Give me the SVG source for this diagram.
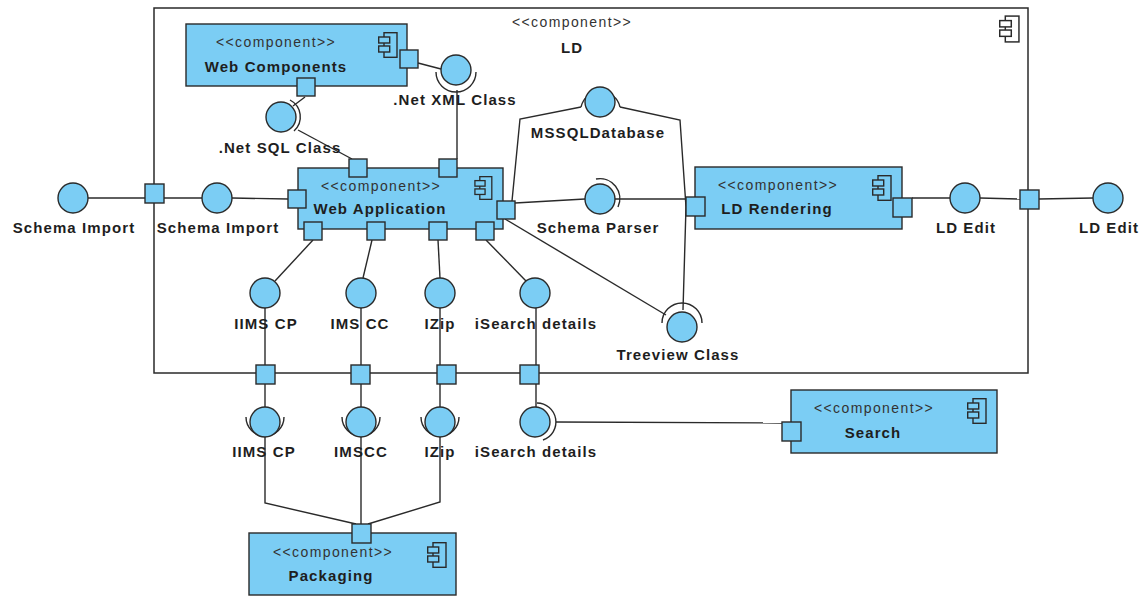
<svg xmlns="http://www.w3.org/2000/svg" xmlns:xlink="http://www.w3.org/1999/xlink" width="1147" height="596" viewBox="0 0 1147 596">
  <style>
    .box { fill: #7BCDF4; stroke: #2a2a2a; stroke-width: 1.4; }
    .frame { fill: #ffffff; stroke: #2a2a2a; stroke-width: 1.5; }
    .port { fill: #7BCDF4; stroke: #2a2a2a; stroke-width: 1.4; }
    .ball { fill: #7BCDF4; stroke: #2a2a2a; stroke-width: 1.4; }
    .sock { fill: none; stroke: #2a2a2a; stroke-width: 1.4; }
    .wire { fill: none; stroke: #2a2a2a; stroke-width: 1.4; }
    .st { font-family: "Liberation Sans", Arial, sans-serif; font-size: 14px; fill: #333333; letter-spacing: 1.4px; text-anchor: middle; }
    .lb { font-family: "Liberation Sans", Arial, sans-serif; font-size: 15px; font-weight: bold; fill: #1e1e1e; letter-spacing: 1.1px; text-anchor: middle; }
  </style>
  <defs>
    <!-- component glyph: body with two tabs; tab fill comes from the <use> -->
    <symbol id="ico" viewBox="0 0 20 26">
      <rect x="6" y="0.7" width="13" height="24.6" fill="none" stroke="#2a2a2a" stroke-width="1.4"/>
      <rect x="0.7" y="5" width="11" height="6" stroke="#2a2a2a" stroke-width="1.4"/>
      <rect x="0.7" y="14" width="11" height="6" stroke="#2a2a2a" stroke-width="1.4"/>
    </symbol>
  </defs>

  <!-- LD container -->
  <g id="ld">
    <rect class="frame" x="154" y="8" width="874" height="365"/>
    <text class="st" x="572" y="27">&lt;&lt;component&gt;&gt;</text>
    <text class="lb" x="572" y="53">LD</text>
    <use href="#ico" x="999" y="15" width="21" height="28" fill="#ffffff"/>
  </g>

  <!-- connectors -->
  <g id="connectors">
    <!-- Schema Import -->
    <line class="wire" x1="88" y1="198" x2="145" y2="198"/>
    <line class="wire" x1="164" y1="198" x2="202" y2="198"/>
    <line class="wire" x1="232" y1="198" x2="288" y2="199"/>
    <!-- .Net SQL Class -->
    <line class="wire" x1="305" y1="97" x2="293" y2="106"/>
    <line class="wire" x1="298" y1="130" x2="352" y2="159"/>
    <!-- .Net XML Class -->
    <line class="wire" x1="418" y1="63" x2="441" y2="69"/>
    <line class="wire" x1="457" y1="90" x2="457" y2="159"/>
    <!-- MSSQLDatabase -->
    <polyline class="wire" points="512,201 520,119 581,107"/>
    <polyline class="wire" points="620,107 680,120 686,207 683,310"/>
    <!-- Schema Parser -->
    <line class="wire" x1="515" y1="203" x2="585" y2="199"/>
    <line class="wire" x1="615" y1="199" x2="686" y2="199"/>
    <!-- Treeview Class -->
    <line class="wire" x1="505" y1="219" x2="666" y2="315"/>
    <!-- LD Edit -->
    <line class="wire" x1="912" y1="198" x2="950" y2="198"/>
    <line class="wire" x1="980" y1="198" x2="1020" y2="199"/>
    <line class="wire" x1="1039" y1="199" x2="1093" y2="198"/>
    <!-- Web Application bottom ports to inner interfaces -->
    <line class="wire" x1="313" y1="240" x2="275" y2="281"/>
    <line class="wire" x1="372" y1="240" x2="363" y2="278"/>
    <line class="wire" x1="438" y1="240" x2="440" y2="278"/>
    <line class="wire" x1="486" y1="240" x2="526" y2="281"/>
    <!-- inner interfaces through boundary ports -->
    <line class="wire" x1="265" y1="308" x2="265" y2="407"/>
    <line class="wire" x1="361" y1="308" x2="361" y2="407"/>
    <line class="wire" x1="440" y1="308" x2="440" y2="407"/>
    <line class="wire" x1="536" y1="308" x2="536" y2="407"/>
    <!-- Packaging -->
    <polyline class="wire" points="265,437 265,503 356,524"/>
    <line class="wire" x1="361" y1="437" x2="361" y2="524"/>
    <polyline class="wire" points="440,437 440,502 368,524"/>
    <!-- Search -->
    <line class="wire" x1="556" y1="422" x2="782" y2="423"/>
  </g>

  <!-- boundary ports of LD -->
  <g id="ld-ports">
    <rect class="port" x="145" y="184" width="19" height="19"/>
    <rect class="port" x="1020" y="190" width="19" height="19"/>
    <rect class="port" x="256" y="365" width="19" height="19"/>
    <rect class="port" x="351" y="365" width="19" height="19"/>
    <rect class="port" x="437" y="365" width="19" height="19"/>
    <rect class="port" x="520" y="365" width="19" height="19"/>
  </g>

  <g id="web-components">
    <rect class="box" x="186" y="24" width="221" height="62"/>
    <text class="st" x="276" y="47">&lt;&lt;component&gt;&gt;</text>
    <text class="lb" x="276" y="72">Web Components</text>
    <use href="#ico" x="378" y="32" width="20" height="26" fill="#7BCDF4"/>
    <rect class="port" x="400" y="50" width="18" height="18"/>
    <rect class="port" x="297" y="78" width="18" height="18"/>
  </g>

  <g id="web-application">
    <rect class="box" x="298" y="168" width="205" height="61"/>
    <text class="st" x="381" y="191">&lt;&lt;component&gt;&gt;</text>
    <text class="lb" x="380" y="214">Web Application</text>
    <use href="#ico" x="474" y="176" width="19" height="24" fill="#7BCDF4"/>
    <rect class="port" x="349" y="159" width="18" height="18"/>
    <rect class="port" x="439" y="159" width="18" height="18"/>
    <rect class="port" x="288" y="190" width="18" height="18"/>
    <rect class="port" x="497" y="201" width="18" height="18"/>
    <rect class="port" x="304" y="222" width="18" height="18"/>
    <rect class="port" x="367" y="222" width="18" height="18"/>
    <rect class="port" x="429" y="222" width="18" height="18"/>
    <rect class="port" x="476" y="222" width="18" height="18"/>
  </g>

  <g id="ld-rendering">
    <rect class="box" x="695" y="167" width="207" height="62"/>
    <text class="st" x="778" y="190">&lt;&lt;component&gt;&gt;</text>
    <text class="lb" x="777" y="214">LD Rendering</text>
    <use href="#ico" x="872" y="175" width="20" height="26" fill="#7BCDF4"/>
    <rect class="port" x="686" y="197" width="19" height="19"/>
    <rect class="port" x="893" y="198" width="19" height="19"/>
  </g>

  <g id="search">
    <rect class="box" x="791" y="390" width="206" height="63"/>
    <text class="st" x="874" y="413">&lt;&lt;component&gt;&gt;</text>
    <text class="lb" x="873" y="438">Search</text>
    <use href="#ico" x="967" y="398" width="20" height="26" fill="#7BCDF4"/>
    <rect class="port" x="782" y="422" width="19" height="19"/>
  </g>

  <g id="packaging">
    <rect class="box" x="249" y="533" width="207" height="62"/>
    <text class="st" x="333" y="557">&lt;&lt;component&gt;&gt;</text>
    <text class="lb" x="331" y="581">Packaging</text>
    <use href="#ico" x="427" y="542" width="20" height="26" fill="#7BCDF4"/>
    <rect class="port" x="352" y="524" width="19" height="19"/>
  </g>

  <!-- interfaces -->
  <g id="if-schema-import-out">
    <circle class="ball" cx="73" cy="198" r="15"/>
    <text class="lb" x="74" y="233">Schema Import</text>
  </g>
  <g id="if-schema-import-in">
    <circle class="ball" cx="217" cy="198" r="15"/>
    <text class="lb" x="218" y="233">Schema Import</text>
  </g>
  <g id="if-net-xml">
    <path class="sock" d="M436,72 A20,20 0 0 0 476,72"/>
    <circle class="ball" cx="456" cy="70" r="15"/>
    <text class="lb" x="455" y="105">.Net XML Class</text>
  </g>
  <g id="if-net-sql">
    <path class="sock" d="M290,100 A19,19 0 0 1 294,131"/>
    <circle class="ball" cx="281" cy="117" r="15"/>
    <text class="lb" x="280" y="153">.Net SQL Class</text>
  </g>
  <g id="if-mssql">
    <path class="sock" d="M581,107 A20,20 0 0 1 620,107"/>
    <circle class="ball" cx="600" cy="102" r="15"/>
    <text class="lb" x="598" y="138">MSSQLDatabase</text>
  </g>
  <g id="if-schema-parser">
    <path class="sock" d="M596,179 A20,20 0 0 1 618,207"/>
    <circle class="ball" cx="600" cy="199" r="15"/>
    <text class="lb" x="598" y="233">Schema Parser</text>
  </g>
  <g id="if-treeview">
    <path class="sock" d="M662,323 A20,20 0 0 1 702,323"/>
    <circle class="ball" cx="682" cy="327" r="15"/>
    <text class="lb" x="678" y="360">Treeview Class</text>
  </g>
  <g id="if-ld-edit-in">
    <circle class="ball" cx="965" cy="198" r="15"/>
    <text class="lb" x="966" y="233">LD Edit</text>
  </g>
  <g id="if-ld-edit-out">
    <circle class="ball" cx="1108" cy="198" r="15"/>
    <text class="lb" x="1109" y="233">LD Edit</text>
  </g>

  <g id="if-iims-cp-in">
    <circle class="ball" cx="265" cy="293" r="15"/>
    <text class="lb" x="266" y="329">IIMS CP</text>
  </g>
  <g id="if-ims-cc-in">
    <circle class="ball" cx="361" cy="293" r="15"/>
    <text class="lb" x="360" y="329">IMS CC</text>
  </g>
  <g id="if-izip-in">
    <circle class="ball" cx="440" cy="293" r="15"/>
    <text class="lb" x="440" y="329">IZip</text>
  </g>
  <g id="if-isearch-in">
    <circle class="ball" cx="535" cy="293" r="15"/>
    <text class="lb" x="536" y="329">iSearch details</text>
  </g>

  <g id="if-iims-cp-out">
    <path class="sock" d="M284,417 A19,19 0 0 1 246,417"/>
    <circle class="ball" cx="265" cy="422" r="15"/>
    <text class="lb" x="264" y="457">IIMS CP</text>
  </g>
  <g id="if-imscc-out">
    <path class="sock" d="M380,417 A19,19 0 0 1 342,417"/>
    <circle class="ball" cx="361" cy="422" r="15"/>
    <text class="lb" x="361" y="457">IMSCC</text>
  </g>
  <g id="if-izip-out">
    <path class="sock" d="M459,417 A19,19 0 0 1 421,417"/>
    <circle class="ball" cx="440" cy="422" r="15"/>
    <text class="lb" x="440" y="457">IZip</text>
  </g>
  <g id="if-isearch-out">
    <path class="sock" d="M537,403 A19,19 0 0 1 543,440"/>
    <circle class="ball" cx="535" cy="422" r="15"/>
    <text class="lb" x="536" y="457">iSearch details</text>
  </g>
</svg>
